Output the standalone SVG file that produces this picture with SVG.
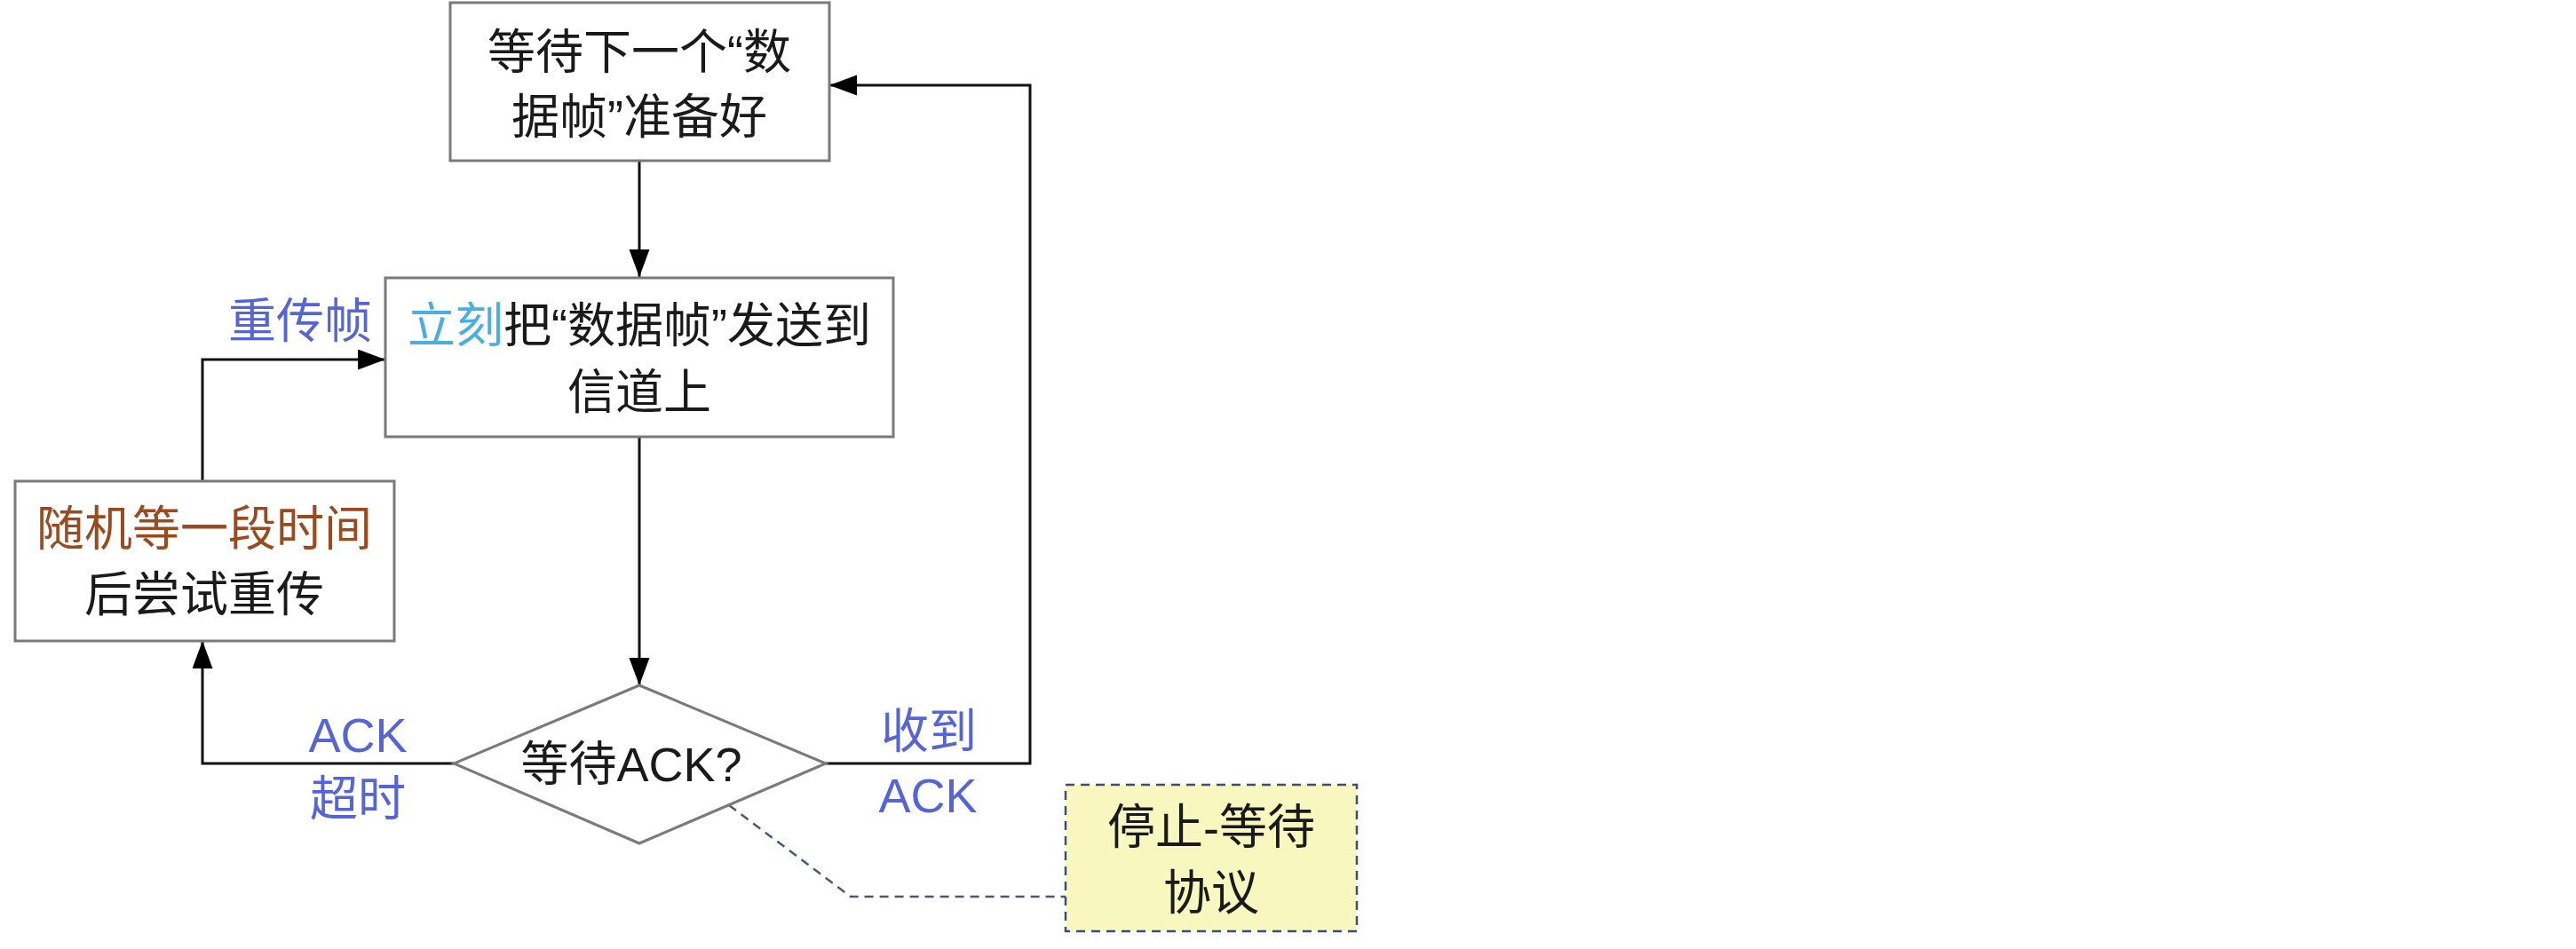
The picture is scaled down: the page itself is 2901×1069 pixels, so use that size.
<svg xmlns="http://www.w3.org/2000/svg" width="2901" height="1069" viewBox="0 0 2901 1069">
<defs>
<marker id="arr" markerUnits="userSpaceOnUse" markerWidth="32" markerHeight="24" refX="31" refY="11.5" orient="auto">
<path d="M0,0 L31,11.5 L0,23 z" fill="#000"/>
</marker>
<style>
.box{fill:#fff;stroke:#7a7a7a;stroke-width:3}
.t{font-family:"Liberation Sans","Noto Sans CJK SC",sans-serif;font-size:54px;fill:#1a1a1a;text-anchor:middle}
.t.lbl{fill:#5565d8}
.t.brown{fill:#9a4a1e}
.cyan{fill:#4aaee2}
.con{fill:none;stroke:#111;stroke-width:3}
.note{fill:#f8f7bf;stroke:#3d4f6e;stroke-width:2.5;stroke-dasharray:10 7}
.dash{fill:none;stroke:#4a5870;stroke-width:2.5;stroke-dasharray:10 7}
</style>
</defs>
<rect width="2901" height="1069" fill="#fff"/>
<g id="connectors">
<path class="con" d="M720,181 V312" marker-end="url(#arr)"/>
<path class="con" d="M720,492 V772" marker-end="url(#arr)"/>
<path class="con" d="M511,860 H228 V722" marker-end="url(#arr)"/>
<path class="con" d="M228,542 V405 H434" marker-end="url(#arr)"/>
<path class="con" d="M930,860 H1160 V96 H934" marker-end="url(#arr)"/>
<path class="dash" d="M821,907 L958,1010 H1200"/>
<text class="t lbl" x="338" y="381">重传帧</text>
<text class="t lbl" x="403" y="847">ACK</text>
<text class="t lbl" x="403" y="919">超时</text>
<text class="t lbl" x="1046" y="843">收到</text>
<text class="t lbl" x="1045" y="915">ACK</text>
</g>
<g id="wait-next">
<rect class="box" x="507" y="3" width="427" height="178"/>
<text class="t" x="720" y="78">等待下一个“数</text>
<text class="t" x="720" y="151">据帧”准备好</text>
</g>
<g id="send">
<rect class="box" x="434" y="313" width="572" height="179"/>
<text class="t" x="720" y="386"><tspan class="cyan">立刻</tspan>把“数据帧”发送到</text>
<text class="t" x="720" y="461">信道上</text>
</g>
<g id="backoff">
<rect class="box" x="17" y="542" width="427" height="180"/>
<text class="t brown" x="230" y="615">随机等一段时间</text>
<text class="t" x="230" y="689">后尝试重传</text>
</g>
<g id="wait-ack">
<polygon class="box" points="720,772 930,860 720,950 511,860"/>
<text class="t" x="711" y="880">等待ACK?</text>
</g>
<g id="note">
<rect class="note" x="1200" y="884" width="328" height="165"/>
<text class="t" x="1364" y="951">停止-等待</text>
<text class="t" x="1364" y="1025">协议</text>
</g>
</svg>
